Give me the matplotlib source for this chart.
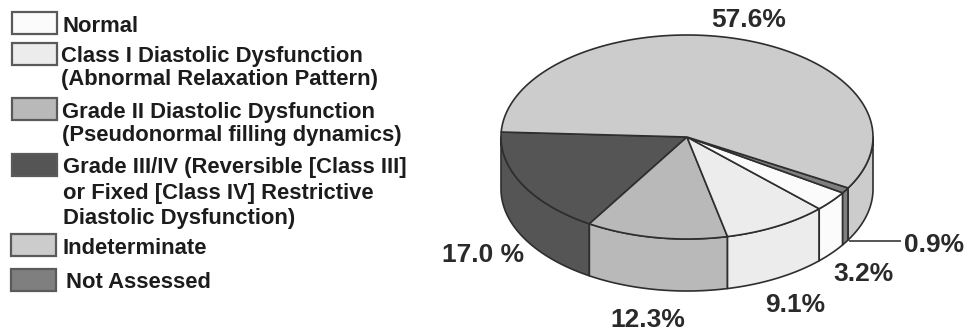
import numpy as np
import matplotlib
matplotlib.use("Agg")
import matplotlib.pyplot as plt
from matplotlib.patches import Polygon, Rectangle

plt.rcParams['font.family'] = ['Liberation Sans', 'DejaVu Sans']

categories = ["Normal",
              "Class I Diastolic Dysfunction\n(Abnormal Relaxation Pattern)",
              "Grade II Diastolic Dysfunction\n(Pseudonormal filling dynamics)",
              "Grade III/IV (Reversible [Class III]\nor Fixed [Class IV] Restrictive\nDiastolic Dysfunction)",
              "Indeterminate",
              "Not Assessed"]
shares = [3.2, 9.1, 12.3, 17.0, 57.6, 0.9]
value_labels = ["3.2%", "9.1%", "12.3%", "17.0 %", "57.6%", "0.9%"]
colors = ["#fbfbfb", "#ececec", "#b9b9b9", "#555555", "#cccccc", "#7f7f7f"]

# Legend layout: swatch top, swatch left, text left, text centre, line spacing
legend_rows = [(12, 12, 63, 26, 1.2), (43, 12, 61, 68, 1.13), (98, 12, 62, 124, 1.13),
               (154, 12, 63, 193, 1.26), (234, 11, 63, 249, 1.2), (269, 11, 66, 283, 1.2)]
# Label anchor points (pixels), same order as shares
label_xy = [(863, 274), (795, 305), (648, 320), (483, 255), (749, 20), (934, 245)]

# Pie drawn as an oblique disc
CX, CY, A, B, DEPTH = 687, 137, 186, 102, 52
START_DEG = 177.2
EDGE = "#2e2e2e"


def rim(t0, t1, n=80):
    t = np.radians(np.linspace(t0, t1, n))
    return np.column_stack([CX + A * np.cos(t), CY - B * np.sin(t)])


fig = plt.figure(figsize=(9.7, 3.35), dpi=100)
ax = fig.add_axes([0, 0, 1, 1])
ax.set_xlim(0, 970)
ax.set_ylim(335, 0)
ax.axis("off")

# Slices run counter-clockwise from the left side of the disc
order = [3, 2, 1, 0, 5, 4]
total = sum(shares)
angle = START_DEG
spans = {}
for i in order:
    sweep = shares[i] / total * 360
    spans[i] = (angle, angle + sweep)
    angle += sweep

# Side wall: only the front half of the disc (180-360 degrees) is visible
for i in order:
    t0, t1 = spans[i]
    for lo, hi in [(t0, t1), (t0 - 360, t1 - 360)]:
        lo, hi = max(lo, 180), min(hi, 360)
        if hi <= lo:
            continue
        top = rim(lo, hi)
        bottom = top[::-1] + [0, DEPTH]
        ax.add_patch(Polygon(np.vstack([top, bottom]), closed=True,
                             facecolor=colors[i], edgecolor=EDGE, linewidth=1.2,
                             joinstyle="round", zorder=2))

# Top face
for i in order:
    t0, t1 = spans[i]
    pts = np.vstack([[CX, CY], rim(t0, t1, 200)])
    ax.add_patch(Polygon(pts, closed=True, facecolor=colors[i], edgecolor=EDGE,
                         linewidth=1.2, joinstyle="round", zorder=3))

# Legend
for name, color, (top, left, tx, ty, spacing) in zip(categories, colors, legend_rows):
    ax.add_patch(Rectangle((left, top), 45, 22, facecolor=color,
                           edgecolor="#5a5a5a", linewidth=1.6, zorder=2))
    ax.text(tx, ty, name, fontsize=15.8, fontweight="bold", color="#1c1c1c",
            ha="left", va="center", linespacing=spacing)

# Value labels and the leader for the thin slice
for text, (x, y) in zip(value_labels, label_xy):
    ax.text(x, y, text, fontsize=19, fontweight="bold", color="#2a2a2a",
            ha="center", va="center")
ax.plot([850, 900], [241, 241], color="#555555", linewidth=1.4, zorder=1)

fig.savefig("out.png", dpi=100)
